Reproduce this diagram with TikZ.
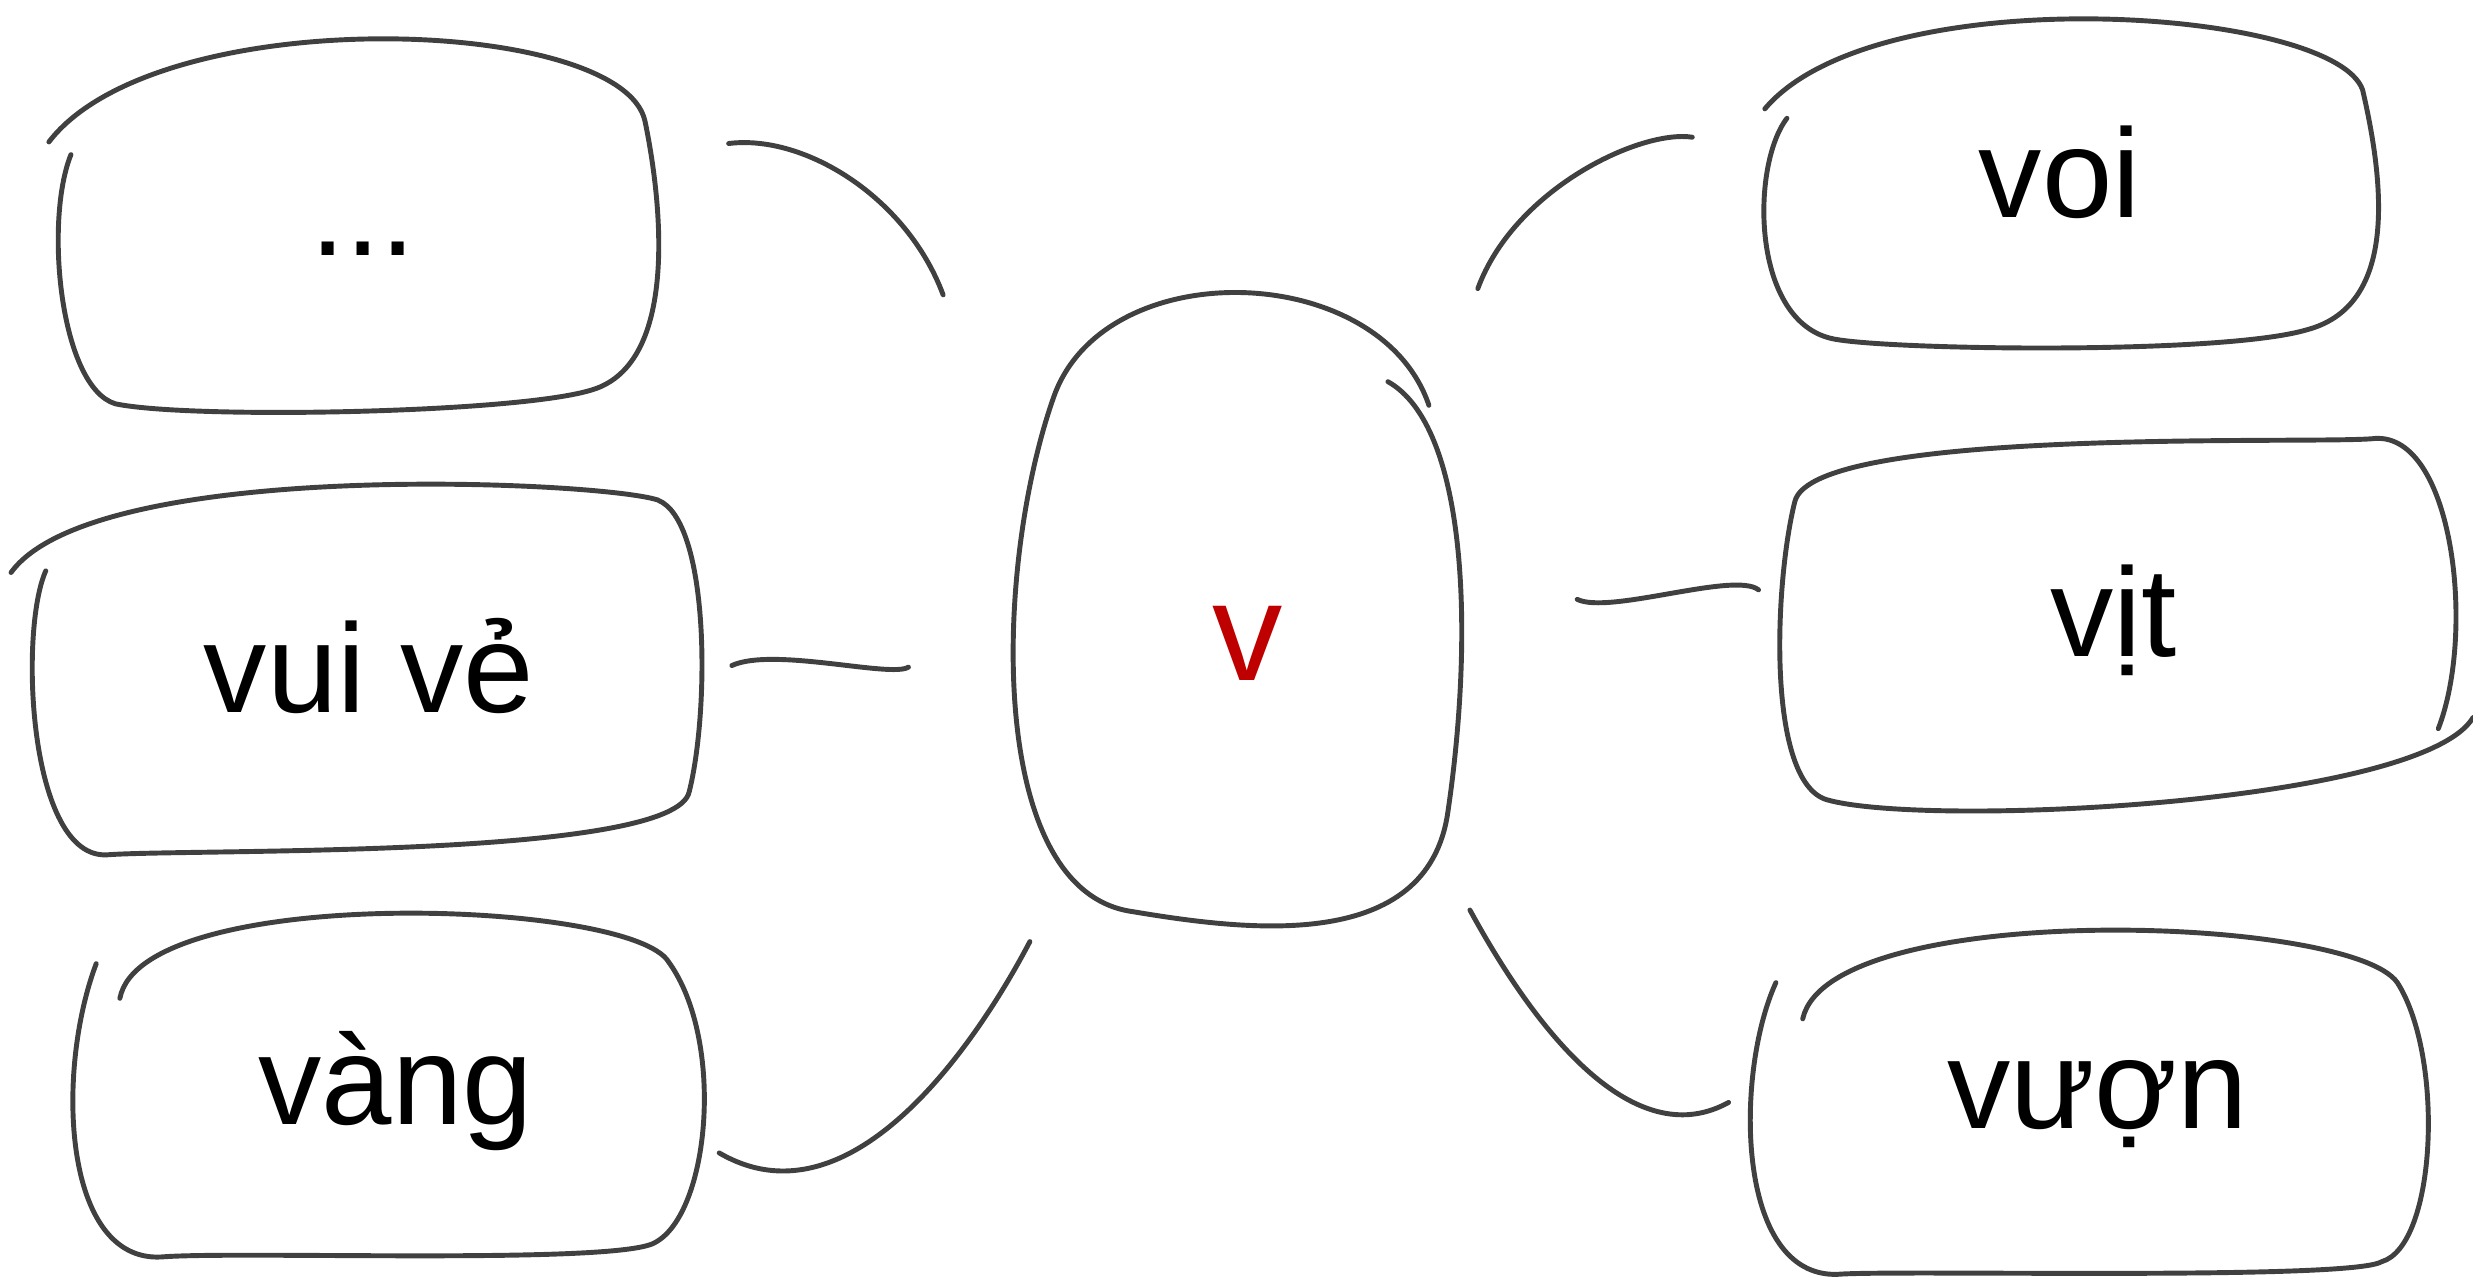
\documentclass[tikz,border=0pt]{standalone}
\usepackage{fontspec}
\setmainfont{Liberation Sans}
\usetikzlibrary{positioning}
\definecolor{pencil}{rgb}{0.25,0.25,0.25}
\definecolor{myred}{rgb}{0.75,0,0}
\tikzset{
	sketch/.style={draw=pencil, line width=1.4pt, line cap=round, line join=round},
	word/.style={font=\fontsize{36}{43}\selectfont, inner sep=0pt}
}
\begin{document}
\begin{tikzpicture}[x=0.01577cm, y=-0.01577cm]
\useasboundingbox (0,0) rectangle (1568,810);
	% words
	\node[word] (dots) at (230,158) {...};
	\node[word] (vuive) at (234,422) {vui vẻ};
	\node[word] (vang) at (251,692) {vàng};
	\node[word, text=myred, font=\fontsize{40}{48}\selectfont] (v) at (791,408) {v};
	\node[word] (voi) at (1306,109) {voi};
	\node[word] (vit) at (1340,393) {vịt};
	\node[word] (vuon) at (1330,700) {vượn};
	
	% rough outlines
	\draw[sketch] (45,98) .. controls (28,140) and (38,245) .. (73,256) .. controls (120,266) and (330,262) .. (376,247) .. controls (430,230) and (420,130) .. (409,77) .. controls (395,10) and (100,0) .. (31,90);
	\draw[sketch] (29,362) .. controls (12,400) and (18,545) .. (68,542) .. controls (120,538) and (428,545) .. (437,502) .. controls (450,450) and (450,330) .. (417,317) .. controls (380,305) and (60,290) .. (7,363);
	\draw[sketch] (61,611) .. controls (35,680) and (40,800) .. (102,797) .. controls (150,793) and (390,802) .. (415,788) .. controls (450,770) and (460,660) .. (424,610) .. controls (400,570) and (90,560) .. (76,633);
	
	\draw[sketch] (880,242) .. controls (930,270) and (935,400) .. (918,515) .. controls (905,605) and (790,590) .. (718,578) .. controls (625,565) and (630,360) .. (668,252) .. controls (700,160) and (875,165) .. (906,257);
	
	\draw[sketch] (1133,75) .. controls (1110,105) and (1110,205) .. (1163,215) .. controls (1200,222) and (1410,225) .. (1463,209) .. controls (1515,195) and (1515,130) .. (1498,57) .. controls (1480,5) and (1190,-15) .. (1119,69);
	\draw[sketch] (1546,462) .. controls (1570,400) and (1555,275) .. (1506,278) .. controls (1470,282) and (1150,270) .. (1138,318) .. controls (1125,370) and (1120,495) .. (1158,507) .. controls (1220,525) and (1535,510) .. (1568,455);
	\draw[sketch] (1126,623) .. controls (1100,680) and (1100,810) .. (1165,808) .. controls (1200,805) and (1490,812) .. (1510,800) .. controls (1545,790) and (1550,670) .. (1520,623) .. controls (1490,580) and (1160,570) .. (1143,646);
	
	% connector ends
	\coordinate (dotsE) at (462,91);
	\coordinate (vA) at (598,187);
	\coordinate (vuiveE) at (464,422);
	\coordinate (vB) at (576,423);
	\coordinate (vangE) at (456,731);
	\coordinate (vC) at (653,597);
	\coordinate (vD) at (937,183);
	\coordinate (voiW) at (1073,87);
	\coordinate (vE) at (1000,380);
	\coordinate (vitW) at (1115,374);
	\coordinate (vF) at (932,577);
	\coordinate (vuonW) at (1096,699);
	
	\draw[sketch] (dotsE) .. controls (510,85) and (575,125) .. (vA);
	\draw[sketch] (vuiveE) .. controls (490,410) and (565,430) .. (vB);
	\draw[sketch] (vangE) .. controls (540,780) and (620,660) .. (vC);
	\draw[sketch] (vD) .. controls (960,120) and (1040,82) .. (voiW);
	\draw[sketch] (vE) .. controls (1020,390) and (1100,362) .. (vitW);
	\draw[sketch] (vF) .. controls (980,665) and (1040,730) .. (vuonW);
\end{tikzpicture}
\end{document}
